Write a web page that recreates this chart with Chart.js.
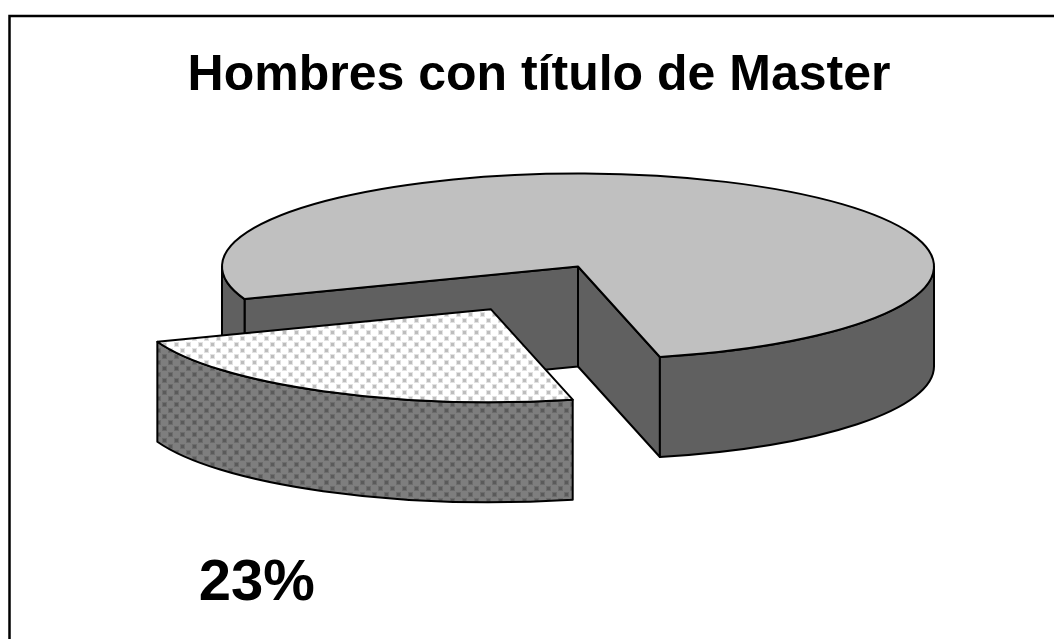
<!DOCTYPE html>
<html>
<head>
<meta charset="utf-8">
<script src="https://cdn.jsdelivr.net/npm/chart.js@4/dist/chart.umd.min.js"></script>
<style>
  html, body { margin: 0; padding: 0; background: #fff; }
  #wrap { width: 1054px; height: 639px; position: relative; }
</style>
</head>
<body>
<div id="wrap"><canvas id="masterChart"></canvas></div>
<script>
// data
const categories = ['Sin título de Master', 'Con título de Master'];
const shares = [77, 23];
const showLabel = [false, true];
const explode = [0, 0.52];

function makePattern(bg, dot, halo) {
  const c = document.createElement('canvas');
  c.width = 12; c.height = 12;
  const g = c.getContext('2d');
  g.fillStyle = bg;
  g.fillRect(0, 0, 12, 12);
  g.fillStyle = halo;
  g.fillRect(0, 0, 5, 5);
  g.fillRect(6, 6, 5, 5);
  g.fillStyle = dot;
  g.fillRect(1, 1, 3, 3);
  g.fillRect(7, 7, 3, 3);
  return g.createPattern(c, 'repeat');
}

const frame = {
  id: 'frame',
  beforeDraw(chart) {
    const ctx = chart.ctx;
    ctx.save();
    ctx.strokeStyle = '#000';
    ctx.lineWidth = 2.5;
    ctx.strokeRect(9.5, 16, 1100, 700);
    ctx.restore();
  }
};

// draws the pie as a tilted, extruded disc using the arcs chart.js laid out
const pie3d = {
  id: 'pie3d',
  beforeDatasetsDraw(chart, args, opts) {
    const ctx = chart.ctx;
    const meta = chart.getDatasetMeta(0);
    const TAU = Math.PI * 2;
    const rx = opts.rx, ry = opts.ry, depth = opts.depth;
    const total = shares.reduce((a, b) => a + b, 0);

    const arcs = meta.data.map((el, i) => {
      const p = el.getProps(['x', 'y', 'startAngle', 'endAngle'], true);
      let s = p.startAngle, e = p.endAngle;
      while (s >= TAU) { s -= TAU; e -= TAU; }
      while (s < 0) { s += TAU; e += TAU; }
      const mid = (s + e) / 2;
      const f = explode[i] || 0;
      return {
        i, s, e, mid,
        cx: p.x + opts.dx + f * rx * Math.cos(mid),
        cy: p.y + opts.dy + f * ry * Math.sin(mid)
      };
    });
    arcs.sort((a, b) => Math.sin(a.mid) - Math.sin(b.mid));

    ctx.save();
    ctx.lineWidth = 2;
    ctx.lineJoin = 'round';
    ctx.strokeStyle = '#000';

    arcs.forEach(a => {
      const side = opts.sideColors[a.i];
      const top = opts.topColors[a.i];
      const rim = t => [a.cx + rx * Math.cos(t), a.cy + ry * Math.sin(t)];

      // cut faces
      const faces = [];
      if (Math.cos(a.s) < 0) faces.push(a.s);
      if (Math.cos(a.e) > 0) faces.push(a.e);
      faces.forEach(t => {
        const [x, y] = rim(t);
        ctx.beginPath();
        ctx.moveTo(a.cx, a.cy);
        ctx.lineTo(x, y);
        ctx.lineTo(x, y + depth);
        ctx.lineTo(a.cx, a.cy + depth);
        ctx.closePath();
        ctx.fillStyle = side;
        ctx.fill();
        ctx.stroke();
      });

      // outer wall, front half only
      for (let k = -1; k <= 2; k++) {
        const lo = Math.max(a.s, k * TAU);
        const hi = Math.min(a.e, k * TAU + Math.PI);
        if (hi <= lo) continue;
        ctx.beginPath();
        ctx.ellipse(a.cx, a.cy, rx, ry, 0, lo, hi, false);
        const [hx, hy] = rim(hi);
        ctx.lineTo(hx, hy + depth);
        ctx.ellipse(a.cx, a.cy + depth, rx, ry, 0, hi, lo, true);
        ctx.closePath();
        ctx.fillStyle = side;
        ctx.fill();
        ctx.stroke();
      }

      // top face
      ctx.beginPath();
      ctx.moveTo(a.cx, a.cy);
      ctx.ellipse(a.cx, a.cy, rx, ry, 0, a.s, a.e, false);
      ctx.closePath();
      ctx.fillStyle = top;
      ctx.fill();
      ctx.stroke();

      if (showLabel[a.i]) {
        ctx.fillStyle = '#000';
        ctx.font = 'bold 58px "Liberation Sans", Arial, sans-serif';
        ctx.textAlign = 'left';
        ctx.textBaseline = 'alphabetic';
        const txt = Math.round(shares[a.i] / total * 100) + '%';
        ctx.fillText(txt, a.cx + opts.labelDx, a.cy + opts.labelDy);
      }
    });
    ctx.restore();
    return false;
  }
};

const ctx = document.getElementById('masterChart').getContext('2d');
new Chart(ctx, {
  type: 'pie',
  data: {
    labels: categories,
    datasets: [{
      data: shares,
      backgroundColor: ['#c0c0c0', '#ffffff'],
      borderWidth: 0
    }]
  },
  options: {
    responsive: true,
    maintainAspectRatio: false,
    animation: false,
    rotation: 249.5,
    layout: { padding: { left: 24, right: 0, top: 0, bottom: 220 } },
    plugins: {
      legend: { display: false },
      tooltip: { enabled: false },
      title: {
        display: true,
        text: 'Hombres con título de Master',
        color: '#000',
        font: { family: '"Liberation Sans", Arial, sans-serif', size: 50, weight: 'bold' },
        padding: { top: 46, bottom: 8 }
      },
      pie3d: {
        rx: 356, ry: 93, depth: 100, dx: 39, dy: 0,
        topColors: ['#c0c0c0', makePattern('#ffffff', '#bdbdbd', '#e2e2e2')],
        sideColors: ['#606060', makePattern('#7e7e7e', '#5a5a5a', '#6c6c6c')],
        labelDx: -292, labelDy: 291
      }
    }
  },
  plugins: [frame, pie3d]
});
</script>
</body>
</html>
